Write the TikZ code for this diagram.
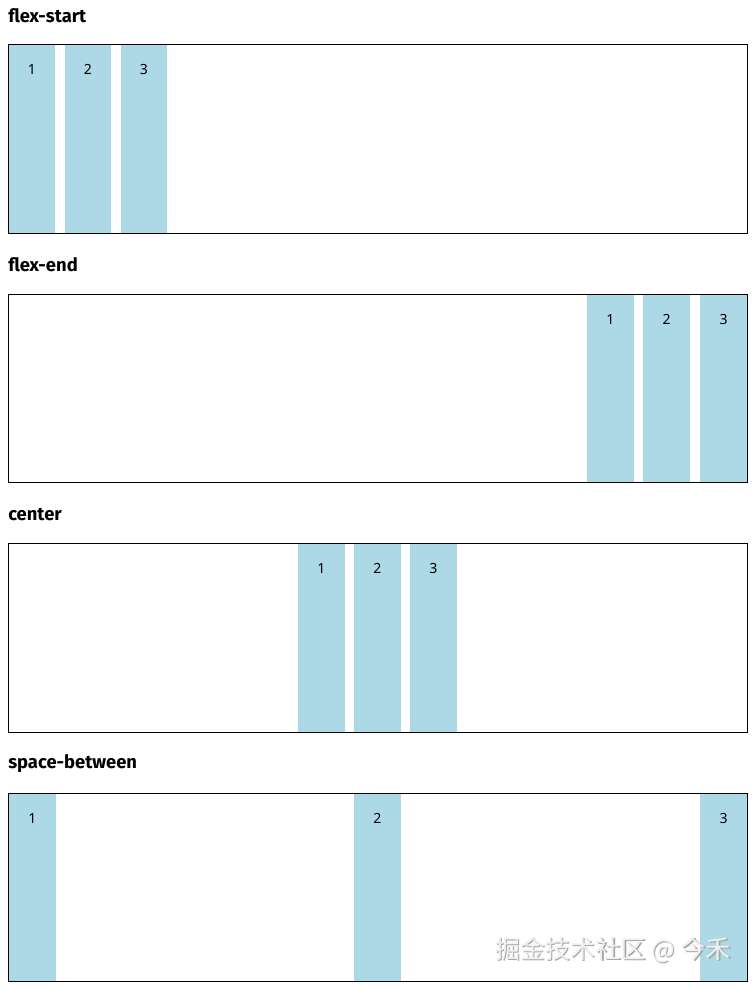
\documentclass[tikz,border=0pt]{standalone}
\usepackage{fontspec}
\setmainfont{Noto Sans}
\newfontfamily\titlefont{Fira Sans}
\newfontfamily\cjk{Noto Sans CJK SC}
\definecolor{itemblue}{HTML}{ADD8E6}
\begin{document}
\begin{tikzpicture}[x=0.75pt,y=-0.75pt,
  title/.style={anchor=west,inner sep=0pt,font=\titlefont\bfseries\fontsize{13.8}{16}\selectfont},
  container/.style={draw=black,line width=0.75pt},
  itembox/.style={fill=itemblue},
  num/.style={inner sep=0pt,font=\fontsize{10.5}{12}\selectfont}]
\useasboundingbox (0,0) rectangle (756,990);
\fill[white] (0,0) rectangle (756,990);
% flex-start
\node[title] (t1) at (8,16) {flex-start};
\foreach \x/\n in {9/1,65/2,121/3}{
  \fill[itembox] (\x,45) rectangle ++(46,188);
  \node[num] (a\n) at (\x+23,69) {\n};
}
\draw[container] (8,44) rectangle (747,233);
% flex-end
\node[title] (t2) at (8,265) {flex-end};
\foreach \x/\n in {587/1,643/2,700/3}{
  \fill[itembox] (\x,295) rectangle ++(47,187);
  \node[num] (b\n) at (\x+23.5,319) {\n};
}
\draw[container] (8,294) rectangle (747,482);
% center
\node[title] (t3) at (8,515) {center};
\foreach \x/\n in {298/1,354/2,410/3}{
  \fill[itembox] (\x,544) rectangle ++(47,188);
  \node[num] (c\n) at (\x+23.5,568) {\n};
}
\draw[container] (8,543) rectangle (747,732);
% space-between
\node[title] (t4) at (8,764) {space-between};
\foreach \x/\n in {9/1,354/2,700/3}{
  \fill[itembox] (\x,794) rectangle ++(47,187);
  \node[num] (d\n) at (\x+23.5,818) {\n};
}
\draw[container] (8,793) rectangle (747,981);
% watermark
\node[anchor=west,inner sep=0pt,text=gray!70,font=\cjk\fontsize{18.8}{20}\selectfont] (wms) at (496.5,951.5) {掘金技术社区 @ 今禾};
\node[anchor=west,inner sep=0pt,text=gray!12,font=\cjk\fontsize{18.8}{20}\selectfont] (wm) at (495,950) {掘金技术社区 @ 今禾};
\end{tikzpicture}
\end{document}
